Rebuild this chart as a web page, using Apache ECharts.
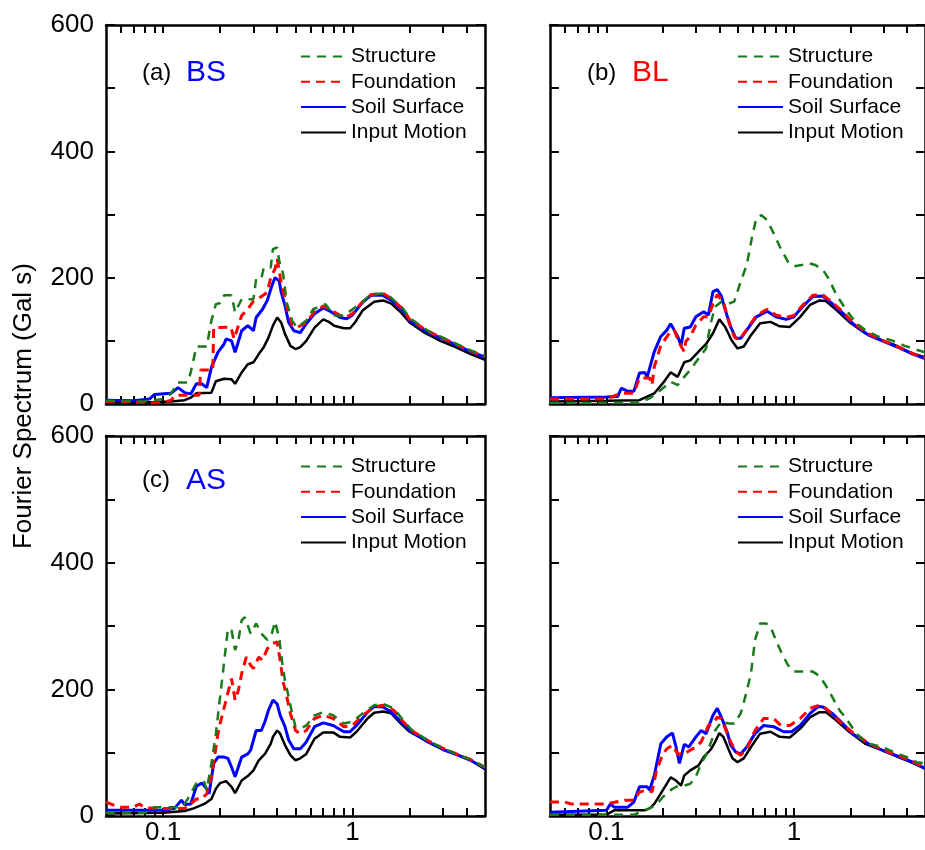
<!DOCTYPE html>
<html><head><meta charset="utf-8">
<script src="https://cdn.jsdelivr.net/npm/echarts@6/dist/echarts.min.js"></script>
<style>html,body{margin:0;padding:0;background:#fff}#c{width:925px;height:850px}</style>
</head><body><div id="c"></div>
<script>
// ---------- labels ----------
const seriesNames = ['Structure', 'Foundation', 'Soil Surface', 'Input Motion'];
const panelTags = ['(a)', '(b)', '(c)', ''];
const panelNames = ['BS', 'BL', 'AS', ''];
const yAxisTitle = 'Fourier Spectrum (Gal s)';
const yTickLabels = [0, 200, 400, 600];
const xTickLabels = [0.1, 1];
const xTickMarks = [0.06, 0.07, 0.08, 0.09, 0.1, 0.2, 0.3, 0.4, 0.5, 0.6, 0.7, 0.8, 0.9, 1, 2, 3, 4];

// ---------- data: [frequency (Hz), Fourier amplitude (Gal s)] ----------
// (a) BS
const aStructure = [[0.05,5],[0.08,4],[0.1,8],[0.11,16],[0.12,34],[0.135,34],[0.14,50],[0.15,91],[0.17,91],[0.18,132],[0.19,158],[0.2,160],[0.21,172],[0.23,172],[0.24,145],[0.26,166],[0.3,166],[0.31,198],[0.33,198],[0.34,216],[0.37,216],[0.38,245],[0.4,248],[0.41,227],[0.43,206],[0.45,160],[0.48,132],[0.51,121],[0.57,132],[0.62,150],[0.72,158],[0.8,140],[0.9,140],[1.0,150],[1.13,162],[1.25,174],[1.5,175],[1.6,168],[1.85,151],[2.0,136],[2.5,116],[3.0,105],[3.6,94],[4.2,85],[5,76]];
const aFoundation = [[0.05,4],[0.07,3],[0.09,2],[0.1,2],[0.11,6],[0.117,14],[0.155,14],[0.158,54],[0.183,54],[0.185,121],[0.2,121],[0.228,122],[0.237,103],[0.26,140],[0.28,150],[0.3,163],[0.33,170],[0.355,177],[0.37,200],[0.39,214],[0.4,230],[0.41,211],[0.42,193],[0.45,153],[0.48,124],[0.51,121],[0.57,129],[0.63,146],[0.7,155],[0.75,151],[0.86,140],[0.93,138],[1.0,143],[1.13,162],[1.25,173],[1.45,175],[1.6,167],[1.85,150],[2.0,134],[2.5,115],[3.0,104],[3.6,93],[4.2,84],[5,75]];
const aSoil = [[0.05,6],[0.07,5],[0.085,8],[0.09,15],[0.11,17],[0.12,26],[0.13,18],[0.14,16],[0.15,32],[0.16,32],[0.17,26],[0.18,58],[0.195,82],[0.21,95],[0.215,103],[0.23,100],[0.24,82],[0.26,116],[0.28,124],[0.3,116],[0.31,137],[0.335,150],[0.355,164],[0.375,187],[0.39,200],[0.41,195],[0.42,177],[0.44,156],[0.46,129],[0.49,116],[0.53,113],[0.57,127],[0.63,143],[0.7,152],[0.75,148],[0.86,137],[0.93,135],[1.0,141],[1.13,161],[1.25,172],[1.45,172],[1.6,164],[1.85,148],[2.0,132],[2.5,113],[3.0,103],[3.6,92],[4.2,83],[5,74]];
const aInput = [[0.05,3],[0.07,2],[0.09,3],[0.11,4],[0.13,6],[0.14,10],[0.15,17],[0.18,18],[0.19,36],[0.21,40],[0.23,39],[0.24,32],[0.26,50],[0.28,63],[0.3,66],[0.32,79],[0.34,90],[0.36,105],[0.38,124],[0.4,137],[0.42,129],[0.44,111],[0.47,92],[0.5,87],[0.53,90],[0.57,100],[0.63,121],[0.7,134],[0.75,130],[0.8,124],[0.9,120],[0.97,120],[1.03,129],[1.13,148],[1.3,162],[1.45,164],[1.6,159],[1.8,145],[2.0,129],[2.4,113],[2.9,100],[3.5,90],[4.2,79],[5,70]];
// (b) BL
const bStructure = [[0.05,2],[0.15,2],[0.17,9],[0.18,14],[0.2,25],[0.22,35],[0.24,30],[0.26,43],[0.28,54],[0.31,72],[0.34,88],[0.36,128],[0.38,154],[0.41,162],[0.45,159],[0.48,162],[0.52,194],[0.56,220],[0.6,267],[0.63,294],[0.67,299],[0.72,291],[0.78,270],[0.85,246],[0.93,225],[1.0,218],[1.1,220],[1.2,223],[1.3,220],[1.43,212],[1.55,196],[1.68,173],[1.9,149],[2.15,128],[2.4,117],[2.8,107],[3.3,101],[3.9,92],[4.5,86],[5,82]];
const bFoundation = [[0.05,8],[0.1,8],[0.12,17],[0.14,17],[0.15,41],[0.17,41],[0.175,30],[0.18,59],[0.195,93],[0.22,115],[0.23,117],[0.245,96],[0.26,83],[0.265,99],[0.28,107],[0.3,125],[0.33,138],[0.35,138],[0.37,159],[0.39,173],[0.42,162],[0.45,130],[0.48,107],[0.51,101],[0.56,118],[0.63,140],[0.72,150],[0.8,141],[0.91,137],[1.0,140],[1.11,156],[1.26,172],[1.42,173],[1.6,161],[1.82,146],[2.05,130],[2.5,111],[3.0,100],[3.7,89],[4.3,80],[5,73]];
const bSoil = [[0.05,10],[0.1,11],[0.115,12],[0.12,25],[0.13,20],[0.14,20],[0.15,49],[0.16,50],[0.165,43],[0.18,83],[0.195,107],[0.21,117],[0.22,127],[0.24,107],[0.25,93],[0.26,120],[0.28,122],[0.3,138],[0.33,146],[0.35,141],[0.37,178],[0.39,181],[0.41,171],[0.43,149],[0.46,122],[0.49,104],[0.52,104],[0.56,117],[0.63,138],[0.72,147],[0.8,138],[0.91,134],[1.0,138],[1.11,154],[1.26,170],[1.42,171],[1.6,159],[1.82,144],[2.05,128],[2.5,109],[3.0,99],[3.7,88],[4.3,79],[5,72]];
const bInput = [[0.05,4],[0.1,5],[0.15,6],[0.18,17],[0.2,33],[0.22,50],[0.24,43],[0.26,66],[0.28,69],[0.31,83],[0.34,95],[0.37,112],[0.4,134],[0.43,122],[0.465,101],[0.5,88],[0.54,91],[0.59,109],[0.66,128],[0.75,130],[0.84,123],[0.95,122],[1.08,138],[1.22,157],[1.37,164],[1.48,163],[1.68,149],[1.97,130],[2.4,112],[2.95,101],[3.6,91],[4.2,81],[5,74]];
// (c) AS
const cStructure = [[0.05,5],[0.08,5],[0.09,14],[0.12,14],[0.13,19],[0.14,35],[0.15,52],[0.165,54],[0.17,41],[0.18,83],[0.19,130],[0.2,188],[0.21,243],[0.22,296],[0.23,293],[0.24,262],[0.25,278],[0.26,309],[0.27,314],[0.29,288],[0.31,304],[0.33,288],[0.355,278],[0.375,288],[0.39,307],[0.41,281],[0.425,243],[0.44,214],[0.46,188],[0.48,162],[0.5,141],[0.53,138],[0.57,143],[0.63,159],[0.7,164],[0.79,159],[0.9,146],[1.0,149],[1.13,162],[1.3,175],[1.45,177],[1.65,170],[1.85,151],[2.05,136],[2.5,119],[3.0,107],[3.6,97],[4.2,89],[5,77]];
const cFoundation = [[0.05,22],[0.055,17],[0.06,14],[0.07,14],[0.075,19],[0.08,13],[0.1,12],[0.13,12],[0.14,19],[0.15,27],[0.16,27],[0.17,35],[0.18,62],[0.195,130],[0.2,146],[0.215,183],[0.23,217],[0.24,183],[0.25,199],[0.26,225],[0.275,251],[0.29,238],[0.3,233],[0.32,251],[0.335,246],[0.355,264],[0.375,272],[0.4,275],[0.415,246],[0.43,212],[0.45,188],[0.47,162],[0.5,135],[0.53,130],[0.57,135],[0.63,154],[0.7,159],[0.79,154],[0.9,141],[1.0,143],[1.13,159],[1.3,172],[1.45,175],[1.65,167],[1.85,149],[2.05,135],[2.5,119],[3.0,107],[3.6,97],[4.2,89],[5,77]];
const cSoil = [[0.05,9],[0.1,9],[0.115,12],[0.125,25],[0.13,18],[0.14,19],[0.15,47],[0.16,52],[0.17,43],[0.175,35],[0.185,83],[0.195,93],[0.21,93],[0.22,91],[0.23,77],[0.24,62],[0.26,93],[0.28,98],[0.29,104],[0.31,135],[0.33,135],[0.345,149],[0.36,167],[0.38,183],[0.4,177],[0.415,159],[0.44,141],[0.46,120],[0.49,106],[0.53,106],[0.57,117],[0.63,141],[0.7,147],[0.79,143],[0.9,133],[0.97,133],[1.05,143],[1.2,164],[1.3,173],[1.45,172],[1.6,164],[1.8,149],[2.0,135],[2.5,117],[3.0,105],[3.6,96],[4.2,88],[5,75]];
const cInput = [[0.05,4],[0.1,5],[0.13,8],[0.145,12],[0.165,19],[0.18,27],[0.19,43],[0.2,52],[0.215,55],[0.23,46],[0.24,36],[0.26,56],[0.28,63],[0.3,72],[0.32,88],[0.345,98],[0.37,114],[0.38,125],[0.4,135],[0.415,130],[0.44,112],[0.47,96],[0.5,88],[0.53,91],[0.57,98],[0.63,122],[0.7,132],[0.79,132],[0.86,125],[0.97,124],[1.05,133],[1.2,154],[1.3,163],[1.45,165],[1.6,162],[1.8,146],[2.0,133],[2.5,117],[3.0,105],[3.6,96],[4.2,88],[5,74]];
// (d)
const dStructure = [[0.05,2],[0.14,2],[0.16,9],[0.175,14],[0.19,22],[0.2,30],[0.225,43],[0.24,47],[0.26,48],[0.28,51],[0.3,62],[0.32,83],[0.34,96],[0.37,125],[0.38,135],[0.41,149],[0.45,146],[0.48,146],[0.52,162],[0.55,188],[0.59,225],[0.62,278],[0.66,304],[0.71,304],[0.75,299],[0.8,278],[0.86,257],[0.93,238],[1.0,228],[1.1,228],[1.26,228],[1.37,221],[1.48,206],[1.6,188],[1.75,167],[1.9,154],[2.15,130],[2.5,114],[2.95,109],[3.4,101],[4.0,93],[4.5,85],[5,83]];
const dFoundation = [[0.05,22],[0.06,22],[0.065,19],[0.1,19],[0.125,25],[0.14,25],[0.15,38],[0.165,41],[0.175,38],[0.185,72],[0.2,98],[0.21,106],[0.225,112],[0.24,98],[0.26,98],[0.28,104],[0.3,109],[0.32,117],[0.35,143],[0.37,146],[0.39,156],[0.41,154],[0.43,138],[0.46,117],[0.49,101],[0.52,96],[0.56,106],[0.62,135],[0.69,154],[0.78,154],[0.85,143],[0.95,143],[1.08,154],[1.22,170],[1.37,175],[1.48,170],[1.68,154],[1.9,140],[2.1,130],[2.5,115],[3.0,104],[3.7,94],[4.3,86],[5,76]];
const dSoil = [[0.05,6],[0.1,9],[0.105,19],[0.11,14],[0.13,14],[0.14,22],[0.15,46],[0.165,46],[0.17,41],[0.18,64],[0.195,114],[0.21,125],[0.225,131],[0.235,109],[0.245,83],[0.26,113],[0.275,109],[0.3,125],[0.32,135],[0.34,130],[0.37,159],[0.39,170],[0.41,156],[0.44,133],[0.46,112],[0.49,101],[0.52,98],[0.56,109],[0.62,130],[0.69,143],[0.78,141],[0.88,133],[0.97,133],[1.08,143],[1.22,162],[1.35,173],[1.43,172],[1.6,162],[1.82,146],[2.05,130],[2.5,114],[3.0,103],[3.7,93],[4.3,85],[5,75]];
const dInput = [[0.05,2],[0.1,2],[0.11,9],[0.16,9],[0.17,12],[0.18,19],[0.2,41],[0.22,61],[0.235,56],[0.25,48],[0.26,64],[0.28,72],[0.31,80],[0.33,93],[0.36,105],[0.38,117],[0.4,131],[0.42,125],[0.45,104],[0.47,91],[0.5,85],[0.54,91],[0.59,109],[0.66,130],[0.75,133],[0.84,125],[0.95,124],[1.08,138],[1.22,156],[1.37,164],[1.48,164],[1.68,151],[1.97,133],[2.4,114],[2.95,104],[3.6,93],[4.2,85],[5,75]];

const panelData = [
  [aStructure, aFoundation, aSoil, aInput],
  [bStructure, bFoundation, bSoil, bInput],
  [cStructure, cFoundation, cSoil, cInput],
  [dStructure, dFoundation, dSoil, dInput]
];

// ---------- layout & style ----------
const FONT = '"Liberation Sans", Arial, Helvetica, sans-serif';
const X_MIN = 0.05, X_MAX = 5;
const grids = [
  {left: 106, top: 25, width: 379, height: 379},
  {left: 550, top: 25, width: 380, height: 379},
  {left: 106, top: 436, width: 379, height: 380},
  {left: 550, top: 436, width: 380, height: 380}
];
const legendPos = [[300, 46], [737, 46], [300, 456], [737, 456]];
const tagPos = [[142, 61], [587, 61], [142, 468], [587, 468]];
const namePos = [[186, 58], [632, 58], [186, 466], [632, 466]];
const nameColors = ['#0000ff', '#ff0000', '#0000ff', '#0000ff'];
const seriesStyle = [
  {color: '#187a18', width: 2.5, type: [9, 7]},
  {color: '#ff0000', width: 3, type: [9, 6]},
  {color: '#0000ff', width: 3, type: 'solid'},
  {color: '#000000', width: 2.5, type: 'solid'}
];
const drawOrder = [3, 2, 1, 0];
const AX = {color: '#000', width: 2.5};
const TK = {color: '#000', width: 2};

const option = {
  animation: false,
  backgroundColor: '#fff',
  textStyle: {fontFamily: FONT},
  grid: [], xAxis: [], yAxis: [], series: [], legend: [], title: [],
  graphic: [{
    type: 'text', x: 24, y: 406, rotation: Math.PI / 2,
    style: {text: yAxisTitle, fontSize: 26, fontFamily: FONT, fill: '#000', align: 'center', verticalAlign: 'middle'}
  }]
};

const logMin = Math.log10(X_MIN), logMax = Math.log10(X_MAX);

grids.forEach((g, i) => {
  const gp = 2 * i, gh = 2 * i + 1;
  const isLeft = (i % 2 === 0), isBottom = (i >= 2);
  option.grid.push(Object.assign({}, g), Object.assign({}, g));
  // primary log axis carrying the data
  option.xAxis.push({
    type: 'log', logBase: 10, gridIndex: gp, min: X_MIN, max: X_MAX, position: 'bottom',
    axisLine: {show: false}, axisTick: {show: false}, axisLabel: {show: false}, splitLine: {show: false}
  });
  // helper axes in log10 space for tick marks & labels (same pixel extent)
  option.xAxis.push({
    type: 'value', gridIndex: gh, min: logMin, max: logMax, position: 'bottom',
    axisLine: {show: true, onZero: false, lineStyle: AX},
    axisTick: {show: true, inside: true, length: 8, lineStyle: TK, customValues: xTickMarks.map(Math.log10)},
    axisLabel: {show: isBottom, fontSize: 26, color: '#000', margin: 4,
      customValues: xTickLabels.map(Math.log10),
      formatter: v => String(+Math.pow(10, v).toPrecision(3))},
    splitLine: {show: false}
  });
  option.xAxis.push({
    type: 'value', gridIndex: gh, min: logMin, max: logMax, position: 'top',
    axisLine: {show: true, onZero: false, lineStyle: AX},
    axisTick: {show: true, inside: true, length: 8, lineStyle: TK, customValues: xTickMarks.map(Math.log10)},
    axisLabel: {show: false}, splitLine: {show: false}
  });
  option.yAxis.push({
    type: 'value', gridIndex: gp, min: 0, max: 600, interval: 100, position: 'left',
    axisLine: {show: true, onZero: false, lineStyle: AX},
    axisTick: {show: true, inside: true, length: 9, lineStyle: TK},
    axisLabel: {show: isLeft, fontSize: 26, color: '#000', margin: 12, padding: [0, 0, 4, 0],
      formatter: v => yTickLabels.includes(v) ? String(v) : ''},
    splitLine: {show: false}
  });
  option.yAxis.push({
    type: 'value', gridIndex: gh, min: 0, max: 600, interval: 100, position: 'right',
    axisLine: {show: true, onZero: false, lineStyle: AX},
    axisTick: {show: true, inside: true, length: 9, lineStyle: TK},
    axisLabel: {show: false}, splitLine: {show: false}
  });
  drawOrder.forEach(k => {
    const s = seriesStyle[k];
    option.series.push({
      type: 'line', name: seriesNames[k], xAxisIndex: 3 * i, yAxisIndex: 2 * i,
      data: panelData[i][k], symbol: 'none', showSymbol: false, clip: true,
      color: s.color, lineStyle: {color: s.color, width: s.width, type: s.type}, z: 3 + (3 - k)
    });
  });
  option.legend.push({
    orient: 'vertical', left: legendPos[i][0], top: legendPos[i][1], padding: 0,
    itemWidth: 45, itemHeight: 20, itemGap: 4.3, selectedMode: false,
    itemStyle: {opacity: 0},
    textStyle: {fontSize: 21, color: '#000', fontFamily: FONT},
    data: seriesNames.slice()
  });
  if (panelTags[i]) {
    option.title.push({text: panelTags[i], left: tagPos[i][0], top: tagPos[i][1], padding: 0,
      textStyle: {fontSize: 24, fontWeight: 'normal', color: '#000', fontFamily: FONT}});
  }
  if (panelNames[i]) {
    option.title.push({text: panelNames[i], left: namePos[i][0], top: namePos[i][1], padding: 0,
      textStyle: {fontSize: 30, fontWeight: 'normal', color: nameColors[i], fontFamily: FONT}});
  }
});

const chart = echarts.init(document.getElementById('c'), null, {renderer: 'canvas'});
chart.setOption(option);
</script></body></html>
